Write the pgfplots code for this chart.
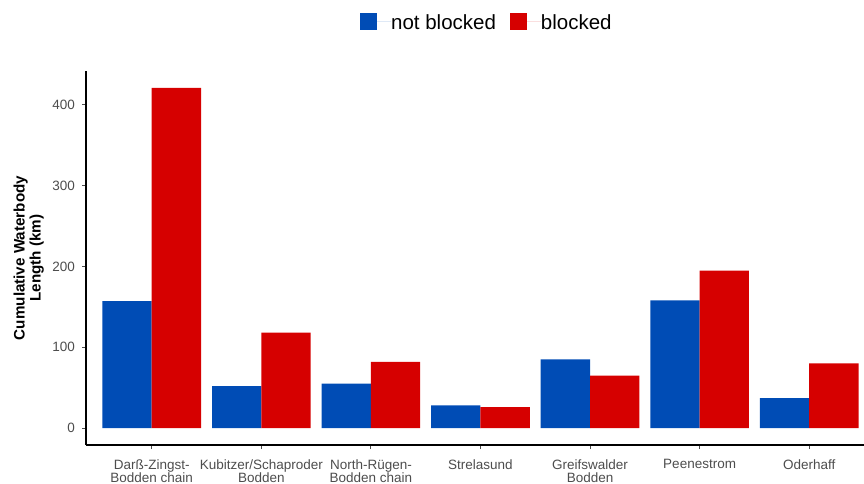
\documentclass[border=0pt]{standalone}
\usepackage{pgfplots}
\pgfplotsset{compat=1.18}
\usepackage{fontspec}
\setmainfont{Liberation Sans}
\definecolor{barblue}{HTML}{004CB5}
\definecolor{barred}{HTML}{D60000}
\definecolor{tickgray}{HTML}{4D4D4D}
\begin{document}
\begin{tikzpicture}
\path[use as bounding box] (0,0) rectangle (864bp,484bp);
\begin{axis}[
  at={(86bp,39bp)}, anchor=south west,
  scale only axis, width=778bp, height=374bp,
  xmin=-0.6, xmax=6.5, ymin=-21, ymax=442,
  axis lines*=left,
  axis line style={-, line width=1.5bp, black},
  xtick={0,1,2,3,4,5,6},
  xticklabels={{Darß-Zingst-\\Bodden chain},{Kubitzer/Schaproder\\Bodden},{North-Rügen-\\Bodden chain},{Strelasund},{Greifswalder\\Bodden},{Peenestrom},{Oderhaff}},
  ytick={0,100,200,300,400},
  tick align=outside,
  major tick length=4bp,
  tick style={tickgray, line width=1bp},
  xticklabel style={align=center, font=\fontsize{13.5bp}{12.8bp}\selectfont, text=tickgray, inner sep=0pt, anchor=north, yshift=-10.5bp},
  yticklabel style={font=\fontsize{13.5bp}{14bp}\selectfont, text=tickgray, inner sep=0pt, anchor=east, xshift=-7bp},
  /pgf/number format/assume math mode=true,
  ylabel={Cumulative Waterbody\\Length (km)},
  ylabel style={at={(axis description cs:-0.0735,0.5)}, anchor=center, align=center, font=\fontsize{15.2bp}{16bp}\selectfont\bfseries},
  ybar, bar width=0.45,
  legend columns=2,
  legend style={at={(0.514,1.132)}, anchor=center, draw=none, fill=none,
    font=\fontsize{20.5bp}{22bp}\selectfont,
    /tikz/every even column/.append style={column sep=14bp},
    nodes={inner sep=0pt, text depth=0pt}},
  legend image code/.code={\fill[#1] (0bp,-8.3bp) rectangle (16.7bp,8.3bp); \path (16.7bp,0) -- (31bp,0);},
]
\addplot+[draw=none, fill=barblue, bar shift=-0.225] coordinates {(0,157) (1,52) (2,55) (3,28) (4,85) (5,158) (6,37)};
\addplot+[draw=none, fill=barred, bar shift=0.225] coordinates {(0,421) (1,118) (2,82) (3,26) (4,65) (5,195) (6,80)};
\legend{not blocked, blocked}
\end{axis}
\end{tikzpicture}
\end{document}
